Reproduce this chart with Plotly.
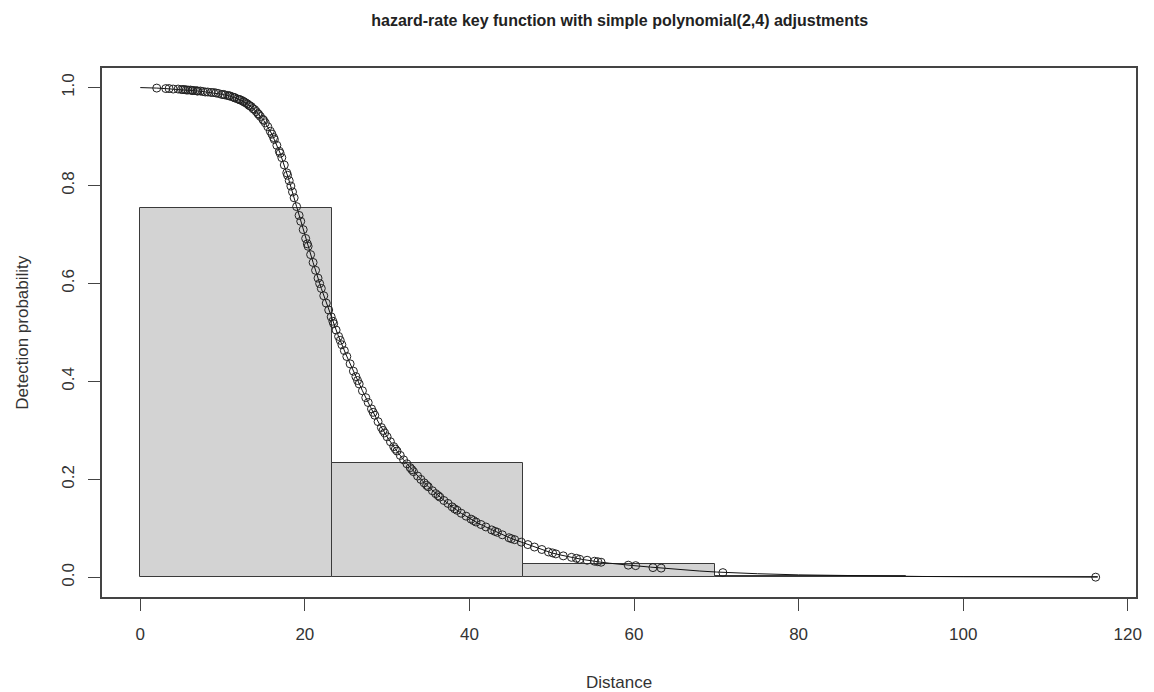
import plotly.graph_objects as go

# Histogram (scaled) of observed distances
bin_breaks = [0.0, 23.27, 46.54, 69.81, 93.08, 116.35]
bin_heights = [0.755, 0.233, 0.028, 0.002, 0.0006]

# Fitted detection function (grid)
curve_x = [0, 1, 2, 3, 4, 5, 6, 7, 8, 9, 10, 11, 12, 13, 14, 15, 16, 17, 18, 19,
           20, 21, 22, 23, 24, 25, 26, 27, 28, 29, 30, 31, 32, 33, 34, 35, 36, 37,
           38, 39, 40, 41, 42, 43, 44, 45, 46, 47, 48, 49, 50, 51, 52, 53, 54, 55,
           56, 57, 58, 59, 60, 62, 64, 66, 68, 70, 72, 75, 80, 85, 90, 95, 100,
           105, 110, 116.35]
curve_y = [1.000, 1.000, 0.999, 0.998, 0.997, 0.996, 0.995, 0.993, 0.991, 0.989,
           0.986, 0.982, 0.976, 0.967, 0.953, 0.933, 0.905, 0.866, 0.815, 0.757,
           0.698, 0.643, 0.590, 0.541, 0.496, 0.455, 0.417, 0.381, 0.347, 0.315,
           0.287, 0.262, 0.240, 0.220, 0.202, 0.185, 0.170, 0.156, 0.143, 0.131,
           0.121, 0.111, 0.103, 0.095, 0.087, 0.080, 0.074, 0.068, 0.061, 0.055,
           0.050, 0.046, 0.042, 0.039, 0.036, 0.033, 0.031, 0.029, 0.027, 0.025,
           0.024, 0.021, 0.018, 0.015, 0.013, 0.011, 0.0095, 0.0075, 0.0052,
           0.0037, 0.0027, 0.0019, 0.0014, 0.0010, 0.0007, 0.0005]

# Observed distances and fitted detection probabilities at them
obs_dist = [2.0, 3.1, 3.5, 4.0, 4.6, 5.0, 5.2, 5.4, 5.6, 5.8, 6.1, 6.3, 6.4, 6.7,
            6.9, 7.0, 7.3, 7.6, 7.9, 8.2, 8.6, 8.9, 9.2, 9.5, 9.9, 10.1, 10.3,
            10.6, 10.8, 10.9, 11.2, 11.4, 11.5, 11.8, 12.0, 12.1, 12.3, 12.5,
            12.6, 12.8, 13.0, 13.2, 13.3, 13.5, 13.7, 13.9, 14.1, 14.3, 14.4,
            14.6, 14.9, 15.0, 15.2, 15.5, 15.8, 16.0, 16.2, 16.3, 16.6, 16.9,
            17.0, 17.2, 17.5, 17.8, 17.9, 18.1, 18.3, 18.5, 18.7, 19.0, 19.3,
            19.5, 19.8, 20.1, 20.3, 20.4, 20.7, 21.0, 21.3, 21.6, 21.8, 22.0,
            22.3, 22.6, 22.9, 23.2, 23.4, 23.5, 23.8, 24.1, 24.3, 24.5, 24.8,
            25.1, 25.5, 25.9, 26.2, 26.4, 26.6, 27.0, 27.4, 27.7, 28.1, 28.3,
            28.5, 28.9, 29.3, 29.5, 29.7, 30.0, 30.4, 30.8, 31.0, 31.2, 31.6,
            32.0, 32.4, 32.8, 33.0, 33.2, 33.7, 34.1, 34.5, 34.8, 35.0, 35.5,
            35.9, 36.2, 36.4, 36.9, 37.4, 37.9, 38.2, 38.5, 39.0, 39.6, 40.2,
            40.5, 40.8, 41.4, 42.0, 42.7, 43.1, 43.4, 44.0, 44.8, 45.1, 45.5,
            46.3, 47.1, 47.9, 48.8, 49.6, 50.1, 50.5, 51.4, 52.4, 53.0, 53.4,
            54.3, 55.2, 55.6, 56.0, 59.3, 60.2, 62.3, 63.3, 70.8, 116.1]
obs_prob = [0.999, 0.998, 0.998, 0.997, 0.997, 0.996, 0.996, 0.996, 0.995, 0.995,
            0.995, 0.994, 0.994, 0.994, 0.993, 0.993, 0.993, 0.992, 0.991, 0.991,
            0.990, 0.990, 0.989, 0.988, 0.986, 0.986, 0.985, 0.984, 0.983, 0.983,
            0.981, 0.980, 0.979, 0.977, 0.976, 0.975, 0.974, 0.972, 0.971, 0.969,
            0.967, 0.964, 0.963, 0.961, 0.957, 0.955, 0.951, 0.947, 0.945, 0.941,
            0.935, 0.933, 0.928, 0.920, 0.911, 0.905, 0.898, 0.894, 0.882, 0.870,
            0.866, 0.857, 0.842, 0.826, 0.821, 0.810, 0.799, 0.787, 0.775, 0.757,
            0.739, 0.727, 0.710, 0.692, 0.681, 0.676, 0.659, 0.643, 0.627, 0.611,
            0.600, 0.590, 0.575, 0.560, 0.546, 0.532, 0.523, 0.518, 0.505, 0.492,
            0.484, 0.475, 0.463, 0.451, 0.436, 0.421, 0.410, 0.402, 0.395, 0.381,
            0.367, 0.357, 0.344, 0.337, 0.331, 0.318, 0.306, 0.300, 0.295, 0.287,
            0.277, 0.267, 0.262, 0.258, 0.249, 0.240, 0.232, 0.224, 0.220, 0.216,
            0.207, 0.200, 0.193, 0.188, 0.185, 0.177, 0.171, 0.167, 0.164, 0.157,
            0.151, 0.144, 0.140, 0.137, 0.131, 0.125, 0.119, 0.116, 0.113, 0.108,
            0.103, 0.097, 0.094, 0.092, 0.087, 0.081, 0.079, 0.077, 0.072, 0.067,
            0.062, 0.057, 0.052, 0.050, 0.048, 0.044, 0.041, 0.039, 0.037, 0.035,
            0.033, 0.032, 0.031, 0.025, 0.024, 0.020, 0.019, 0.0098, 0.0005]

x_ticks = [0, 20, 40, 60, 80, 100, 120]
y_ticks = [0.0, 0.2, 0.4, 0.6, 0.8, 1.0]
y_tick_text = ["0.0", "0.2", "0.4", "0.6", "0.8", "1.0"]

title_text = "hazard-rate key function with simple polynomial(2,4) adjustments"
x_title = "Distance"
y_title = "Detection probability"

bin_centers = [(a + b) / 2 for a, b in zip(bin_breaks[:-1], bin_breaks[1:])]
bin_widths = [b - a for a, b in zip(bin_breaks[:-1], bin_breaks[1:])]

fig = go.Figure()
fig.add_trace(go.Bar(
    x=bin_centers, y=bin_heights, width=bin_widths, base=0,
    marker=dict(color="#d3d3d3", line=dict(color="#3a3a3a", width=1)),
    hoverinfo="skip", showlegend=False,
))
fig.add_trace(go.Scatter(
    x=curve_x, y=curve_y, mode="lines",
    line=dict(color="#111111", width=1), showlegend=False,
))
fig.add_trace(go.Scatter(
    x=obs_dist, y=obs_prob, mode="markers",
    marker=dict(symbol="circle-open", size=8, color="#222222",
                line=dict(width=1, color="#222222")),
    showlegend=False,
))

axis_font = dict(family="Liberation Sans, Arial, sans-serif", size=17, color="#333333")

fig.update_layout(
    width=1154, height=692,
    margin=dict(l=102, r=16, t=68, b=95),
    paper_bgcolor="white", plot_bgcolor="white",
    bargap=0,
    title=dict(text=f"<b>{title_text}</b>", x=0.537, xanchor="center",
               y=1 - 20 / 692, yanchor="middle", yref="container",
               font=dict(family="Liberation Sans, Arial, sans-serif", size=16, color="#222222")),
    xaxis=dict(range=[-4.65, 121.0], tickvals=x_ticks, ticks="outside", ticklen=12,
               tickcolor="#444444", tickwidth=1, showline=True, linecolor="#444444",
               linewidth=1.5, mirror=True, showgrid=False, zeroline=False,
               tickfont=axis_font, ticklabelstandoff=9),
    yaxis=dict(range=[-0.04, 1.04], tickvals=y_ticks, ticktext=y_tick_text,
               ticks="outside", ticklen=12, tickcolor="#444444", tickwidth=1,
               showline=True, linecolor="#444444", linewidth=1.5, mirror=True,
               showgrid=False, zeroline=False, tickangle=-90, tickfont=axis_font,
               ticklabelstandoff=7),
    annotations=[
        dict(text=x_title, xref="paper", yref="paper", x=0.5, y=-(683 - 597.3) / 529.3,
             xanchor="center", yanchor="middle", showarrow=False, font=axis_font),
        dict(text=y_title, xref="paper", yref="paper", x=-(102 - 22) / 1036.6, y=0.5,
             xanchor="center", yanchor="middle", textangle=-90, showarrow=False,
             font=axis_font),
    ],
)

fig.write_html("out.html", config={"displayModeBar": False},
               post_script="document.body.style.margin='0';document.body.style.overflow='hidden';")
